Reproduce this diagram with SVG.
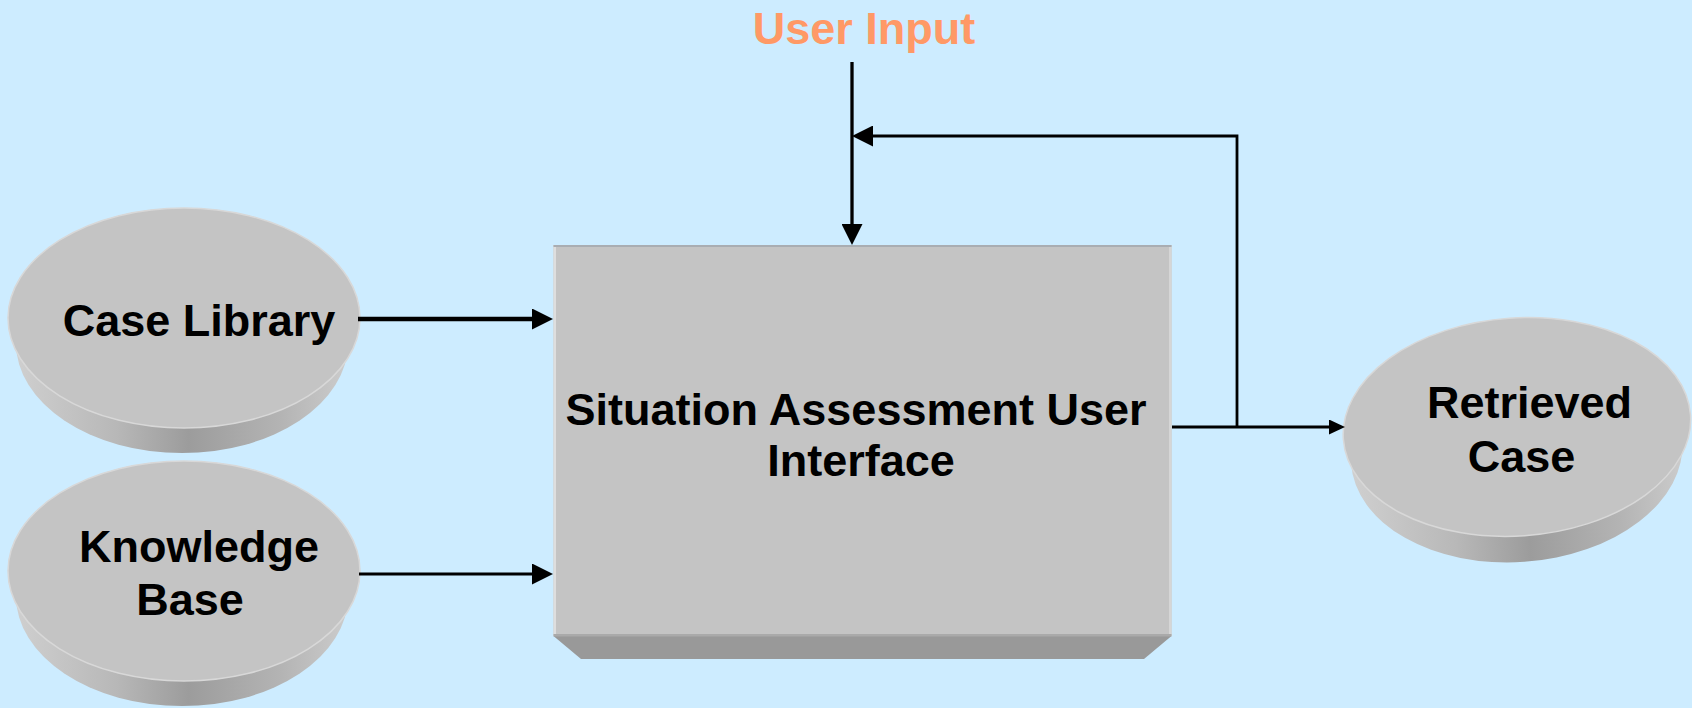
<svg xmlns="http://www.w3.org/2000/svg" width="1692" height="708" viewBox="0 0 1692 708">
  <defs>
    <linearGradient id="side" x1="0" y1="0" x2="1" y2="0">
      <stop offset="0" stop-color="#cfcfcf"/>
      <stop offset="0.3" stop-color="#b8b8b8"/>
      <stop offset="0.52" stop-color="#9c9c9c"/>
      <stop offset="0.8" stop-color="#b4b4b4"/>
      <stop offset="1" stop-color="#cccccc"/>
    </linearGradient>
    <marker id="ah" viewBox="0 0 21 21" markerWidth="21" markerHeight="21" refX="1" refY="10.5" orient="auto" markerUnits="userSpaceOnUse">
      <path d="M0,0 L21,10.5 L0,21 Z" fill="#000"/>
    </marker>
    <marker id="ahs" viewBox="0 0 16 15" markerWidth="16" markerHeight="15" refX="1" refY="7.5" orient="auto" markerUnits="userSpaceOnUse">
      <path d="M0,0 L16,7.5 L0,15 Z" fill="#000"/>
    </marker>
  </defs>
  <style>
    .lbl { font-family: "Liberation Sans", Arial, Helvetica, sans-serif; font-weight: bold; font-size: 45px; fill: #000; text-anchor: middle; }
    .top { fill: #c4c4c4; stroke: #d8d8d8; stroke-width: 1.5; }
    .sidef { fill: url(#side); }
    .conn { fill: none; stroke: #000; stroke-linecap: butt; }
  </style>

  <rect x="0" y="0" width="1692" height="708" fill="#cdecff"/>

  <g id="user-input">
    <text class="lbl" x="864" y="44" style="fill:#ff9966">User Input</text>
  </g>

  <g id="case-library">
    <ellipse class="sidef" cx="182" cy="343" rx="166" ry="110"/>
    <ellipse class="top" cx="184" cy="318" rx="176" ry="110"/>
    <text class="lbl" x="199" y="336">Case Library</text>
  </g>

  <g id="knowledge-base">
    <ellipse class="sidef" cx="182" cy="596" rx="166" ry="110"/>
    <ellipse class="top" cx="184" cy="571" rx="176" ry="110"/>
    <text class="lbl" x="199" y="562">Knowledge</text>
    <text class="lbl" x="190" y="615">Base</text>
  </g>

  <g id="situation-assessment">
    <polygon points="553.5,636 1171.5,636 1144,659 581,659" fill="#999999"/>
    <rect x="553.5" y="245" width="618" height="391" fill="#c4c4c4"/>
    <rect x="553.5" y="245" width="2.5" height="391" fill="#dedede"/>
    <rect x="1169" y="245" width="2.5" height="391" fill="#d6d6d6"/>
    <rect x="553.5" y="245" width="618" height="2" fill="#a9adb2"/>
    <rect x="553.5" y="634" width="618" height="2.5" fill="#aaaaaa"/>
    <text class="lbl" x="856" y="425">Situation Assessment User</text>
    <text class="lbl" x="861" y="476">Interface</text>
  </g>

  <g id="retrieved-case">
    <g transform="rotate(-4 1517 428)">
      <ellipse class="sidef" cx="1515" cy="452" rx="166" ry="110"/>
      <ellipse class="top" cx="1517" cy="427" rx="174" ry="109"/>
    </g>
    <text class="lbl" x="1529.5" y="418">Retrieved</text>
    <text class="lbl" x="1521.5" y="472">Case</text>
  </g>

  <g id="connectors">
    <path class="conn" d="M358,319 H533" stroke-width="4.5" stroke-linecap="round" marker-end="url(#ah)"/>
    <path class="conn" d="M359,574 H533" stroke-width="3" marker-end="url(#ah)"/>
    <path class="conn" d="M852,62 V225" stroke-width="3.3" marker-end="url(#ah)"/>
    <path class="conn" d="M1237,427 V136 H872" stroke-width="2.8" marker-end="url(#ah)"/>
    <path class="conn" d="M1172,427 H1330" stroke-width="3" marker-end="url(#ahs)"/>
  </g>
</svg>
